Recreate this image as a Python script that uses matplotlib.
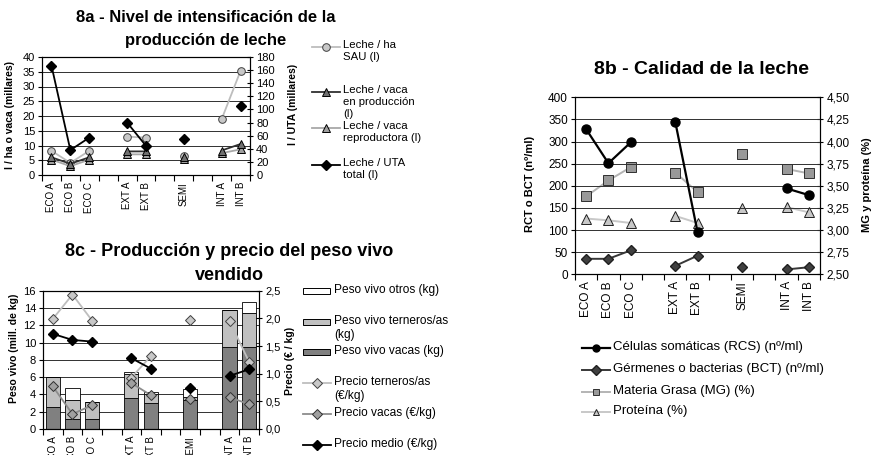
import numpy as np
import matplotlib
matplotlib.use('Agg')
import matplotlib.pyplot as plt
from matplotlib.lines import Line2D
from matplotlib.patches import Rectangle
from matplotlib.ticker import FuncFormatter, MultipleLocator

plt.rcParams['font.family'] = ['Liberation Sans', 'DejaVu Sans']

nan = np.nan
cats = ['ECO A', 'ECO B', 'ECO C', '', 'EXT A', 'EXT B', '', 'SEMI', '', 'INT A', 'INT B']

# 8a - miles de litros
leche_ha = [8.2, 4.1, 8.2, nan, 13.0, 12.7, nan, 6.3, nan, 18.9, 35.3]
leche_vaca_prod = [6.0, 3.8, 6.0, nan, 8.0, 8.0, nan, 6.0, nan, 8.3, 10.5]
leche_vaca_repr = [5.2, 3.0, 5.2, nan, 7.0, 7.0, nan, 5.4, nan, 7.4, 8.7]
leche_uta = [167, 38, 57, nan, 80, 44.5, nan, 55, nan, nan, 106]

# 8b - calidad
rcs = [328, 251, 298, nan, 345, 96, nan, nan, nan, 194, 179]
bct = [35, 35, 54, nan, 19, 42, nan, 16, nan, 11, 16]
mg = [3.38, 3.56, 3.71, nan, 3.65, 3.43, nan, 3.86, nan, 3.69, 3.64]
proteina = [3.13, 3.11, 3.08, nan, 3.16, 3.08, nan, 3.25, nan, 3.26, 3.20]

# 8c - peso vivo (mill. kg) y precio (EUR/kg)
pv_vacas = [2.5, 1.2, 1.2, nan, 3.6, 3.0, nan, 3.4, nan, 9.5, 9.5]
pv_terneros = [3.5, 2.1, 1.9, nan, 2.8, 1.1, nan, 0.3, nan, 4.3, 3.9]
pv_otros = [0.05, 1.5, 0.0, nan, 0.2, 0.2, nan, 0.9, nan, 0.0, 1.3]
precio_terneros = [1.99, 2.43, 1.96, nan, 0.93, 1.32, nan, 1.97, nan, 1.95, 1.21]
precio_vacas = [0.77, 0.27, 0.43, nan, 0.83, 0.61, nan, 0.54, nan, 0.57, 0.45]
precio_medio = [1.72, 1.61, 1.58, nan, 1.28, 1.09, nan, 0.75, nan, 0.96, 1.08]

W, H = 874, 455
x = np.arange(len(cats))


def fx(px):
    return px / W


def fy(py):
    return 1 - py / H


def coma(dec):
    return FuncFormatter(lambda v, p: f'{v:.{dec}f}'.replace('.', ','))


def cat_axis(ax, size):
    ax.set_xlim(-0.5, len(cats) - 0.5)
    ax.set_xticks(x)
    ax.set_xticklabels(cats, rotation=90, fontsize=size)
    ax.set_xticks(np.arange(-0.5, len(cats)), minor=True)
    ax.tick_params(axis='x', which='major', length=0, pad=5)
    ax.tick_params(axis='x', which='minor', length=4, direction='out', width=0.8)
    ax.grid(axis='y', color='#303030', lw=0.7)
    ax.set_axisbelow(True)


def legend_line(px, py, label, size, **style):
    xs = [fx(px), fx(px + 14), fx(px + 28)]
    ys = [fy(py)] * 3
    fig.add_artist(Line2D(xs, ys, transform=fig.transFigure, markevery=[1], **style))
    fig.text(fx(px + 31), fy(py - 7), label, fontsize=size,
             va='top', ha='left', linespacing=1.25)


def legend_patch(px, py, label, size, color):
    fig.add_artist(Rectangle((fx(px), fy(py + 3)), fx(27), 6 / H, transform=fig.transFigure,
                             facecolor=color, edgecolor='black', lw=0.7))
    fig.text(fx(px + 31), fy(py - 7), label, fontsize=size, va='top', ha='left', linespacing=1.25)


fig = plt.figure(figsize=(W / 100, H / 100), dpi=100)

# ---------------- 8a ----------------
ax_a = fig.add_axes([fx(42), fy(175), fx(208), 118 / H])
ax_a2 = ax_a.twinx()
cat_axis(ax_a, 7)
ax_a.set_ylim(0, 40)
ax_a.yaxis.set_major_locator(MultipleLocator(5))
ax_a2.set_ylim(0, 180)
ax_a2.yaxis.set_major_locator(MultipleLocator(20))
ax_a.tick_params(axis='y', labelsize=8, length=3, pad=2)
ax_a2.tick_params(axis='y', labelsize=8, length=5, direction='inout', pad=2)

st_ha = dict(color='#BDBDBD', lw=1.3, marker='o', ms=5.5, mfc='#C8C8C8', mec='#404040', mew=0.7)
st_prod = dict(color='#303030', lw=1.3, marker='^', ms=6, mfc='#707070', mec='black', mew=0.7)
st_repr = dict(color='#A8A8A8', lw=1.3, marker='^', ms=6, mfc='#A0A0A0', mec='black', mew=0.7)
st_uta = dict(color='black', lw=1.3, marker='D', ms=5, mfc='black', mec='black')
ax_a.plot(x, leche_ha, **st_ha)
ax_a.plot(x, leche_vaca_repr, **st_repr)
ax_a.plot(x, leche_vaca_prod, **st_prod)
ax_a2.plot(x, leche_uta, **st_uta)

fig.text(fx(206), fy(18), '8a - Nivel de intensificación de la', fontsize=12, fontweight='bold', ha='center', va='center')
fig.text(fx(206), fy(40), 'producción de leche', fontsize=12, fontweight='bold', ha='center', va='center')
fig.text(fx(10), fy(115), 'l / ha o vaca (millares)', rotation=90, fontsize=7.5, fontweight='bold', ha='center', va='center')
fig.text(fx(293), fy(104), 'l / UTA (millares)', rotation=90, fontsize=7.5, fontweight='bold', ha='center', va='center')

legend_line(312, 47, 'Leche / ha\nSAU (l)', 8.2, **st_ha)
legend_line(312, 92, 'Leche / vaca\nen producción\n(l)', 8.2, **st_prod)
legend_line(312, 128, 'Leche / vaca\nreproductora (l)', 8.2, **st_repr)
legend_line(312, 165, 'Leche / UTA\ntotal (l)', 8.2, **st_uta)

# ---------------- 8c ----------------
ax_c = fig.add_axes([fx(43), fy(429), fx(216), (429 - 290.7) / H])
ax_c2 = ax_c.twinx()
cat_axis(ax_c, 7)
ax_c.set_ylim(0, 16)
ax_c.yaxis.set_major_locator(MultipleLocator(2))
ax_c2.set_ylim(0, 2.5)
ax_c2.yaxis.set_major_locator(MultipleLocator(0.5))
ax_c2.yaxis.set_major_formatter(coma(1))
ax_c.tick_params(axis='y', labelsize=8, length=3, pad=2)
ax_c2.tick_params(axis='y', labelsize=8, length=5, direction='inout', pad=2)

vac = np.array(pv_vacas)
ter = np.array(pv_terneros)
otr = np.array(pv_otros)
ok = ~np.isnan(vac)
bw = 0.72
ax_c.bar(x[ok], vac[ok], bw, color='#808080', edgecolor='black', lw=0.6)
ax_c.bar(x[ok], ter[ok], bw, bottom=vac[ok], color='#C0C0C0', edgecolor='black', lw=0.6)
ax_c.bar(x[ok], otr[ok], bw, bottom=vac[ok] + ter[ok], color='white', edgecolor='black', lw=0.6)

st_pt = dict(color='#BEBEBE', lw=1.3, marker='D', ms=5, mfc='#C8C8C8', mec='#404040', mew=0.7)
st_pv = dict(color='#8C8C8C', lw=1.3, marker='D', ms=5, mfc='#A0A0A0', mec='#303030', mew=0.7)
st_pm = dict(color='black', lw=1.3, marker='D', ms=5, mfc='black', mec='black')
ax_c2.plot(x, precio_terneros, **st_pt)
ax_c2.plot(x, precio_vacas, **st_pv)
ax_c2.plot(x, precio_medio, **st_pm)

fig.text(fx(229), fy(251), '8c - Producción y precio del peso vivo', fontsize=13, fontweight='bold', ha='center', va='center')
fig.text(fx(229), fy(275), 'vendido', fontsize=13, fontweight='bold', ha='center', va='center')
fig.text(fx(14), fy(348), 'Peso vivo (mill. de kg)', rotation=90, fontsize=7.5, fontweight='bold', ha='center', va='center')
fig.text(fx(290), fy(361), 'Precio (€ / kg)', rotation=90, fontsize=7.5, fontweight='bold', ha='center', va='center')

legend_patch(303, 291, 'Peso vivo otros (kg)', 8.6, 'white')
legend_patch(303, 322, 'Peso vivo terneros/as\n(kg)', 8.6, '#C0C0C0')
legend_patch(303, 352, 'Peso vivo vacas (kg)', 8.6, '#808080')
legend_line(303, 383, 'Precio terneros/as\n(€/kg)', 8.6, **st_pt)
legend_line(303, 414, 'Precio vacas (€/kg)', 8.6, **st_pv)
legend_line(303, 445, 'Precio medio (€/kg)', 8.6, **st_pm)

# ---------------- 8b ----------------
ax_b = fig.add_axes([fx(575), fy(274.3), fx(245), 177 / H])
ax_b2 = ax_b.twinx()
cat_axis(ax_b, 8.5)
ax_b.set_ylim(0, 400)
ax_b.yaxis.set_major_locator(MultipleLocator(50))
ax_b2.set_ylim(2.5, 4.5)
ax_b2.yaxis.set_major_locator(MultipleLocator(0.25))
ax_b2.yaxis.set_major_formatter(coma(2))
ax_b.tick_params(axis='y', labelsize=8.5, length=3, pad=2)
ax_b2.tick_params(axis='y', labelsize=8.5, length=5, direction='inout', pad=2)

st_rcs = dict(color='black', lw=1.6, marker='o', ms=6.5, mfc='black', mec='black')
st_bct = dict(color='#383838', lw=1.4, marker='D', ms=5.5, mfc='#404040', mec='#202020')
st_mg = dict(color='#B4B4B4', lw=1.4, marker='s', ms=6.5, mfc='#999999', mec='#303030', mew=0.7)
st_pr = dict(color='#C8C8C8', lw=1.4, marker='^', ms=7, mfc='#C8C8C8', mec='#202020', mew=0.7)
ax_b2.plot(x, proteina, **st_pr)
ax_b2.plot(x, mg, **st_mg)
ax_b.plot(x, bct, **st_bct)
ax_b.plot(x, rcs, **st_rcs)
ax_b.set_zorder(ax_b2.get_zorder() + 1)
ax_b.patch.set_visible(False)

fig.text(fx(701), fy(69), '8b - Calidad de la leche', fontsize=14, fontweight='bold', ha='center', va='center')
fig.text(fx(530), fy(184), 'RCT o BCT (nº/ml)', rotation=90, fontsize=8, fontweight='bold', ha='center', va='center')
fig.text(fx(867), fy(185), 'MG y proteína (%)', rotation=90, fontsize=8, fontweight='bold', ha='center', va='center')

small = dict(ms=5)
legend_line(582, 348, 'Células somáticas (RCS) (nº/ml)', 9.5, **{**st_rcs, **small})
legend_line(582, 370, 'Gérmenes o bacterias (BCT) (nº/ml)', 9.5, **{**st_bct, **small})
legend_line(582, 392, 'Materia Grasa (MG) (%)', 9.5, **{**st_mg, **small})
legend_line(582, 412, 'Proteína (%)', 9.5, **{**st_pr, **small})

fig.savefig('out.png', dpi=100)
